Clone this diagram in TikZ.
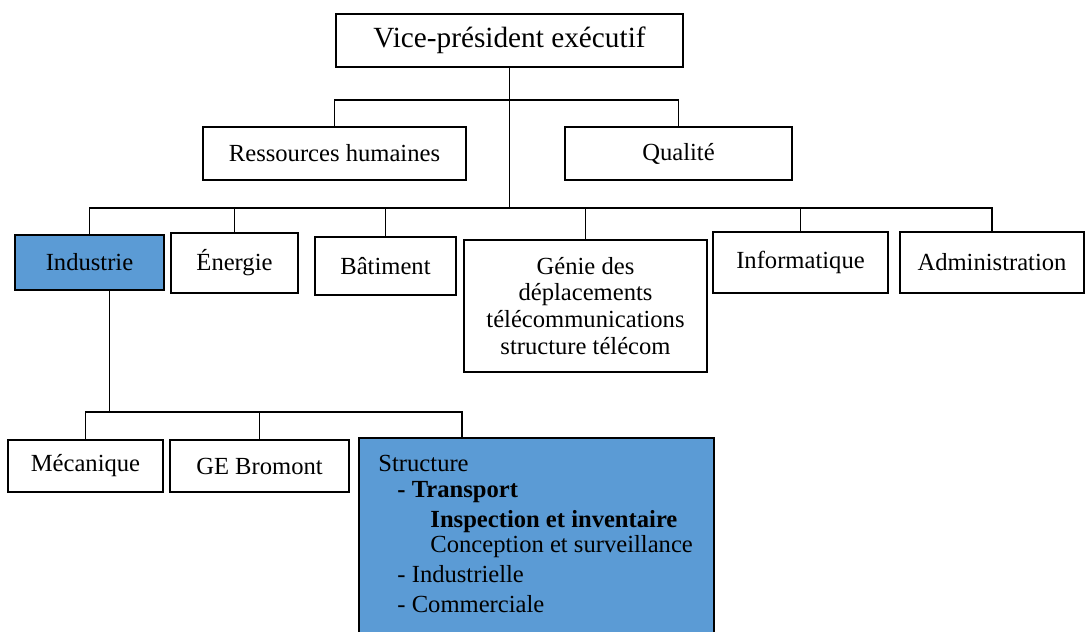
\documentclass[tikz,border=0pt]{standalone}
\usepackage{fontspec}
\setmainfont{Liberation Serif}
\definecolor{ORGblue}{HTML}{5B9BD5}
\usetikzlibrary{calc}

\begin{document}
\begin{tikzpicture}[x=0.015cm, y=-0.015cm,
      box/.style={draw, line width=0.8pt, align=center, inner sep=2pt,
         font=\fontsize{10.5}{11.5}\selectfont},
      link/.style={line width=0.8pt},
      item/.style={anchor=west, inner sep=0pt, font=\fontsize{10.5}{12}\selectfont}]
      \useasboundingbox (0,0) rectangle (1089,631);
      \clip (0,0) rectangle (1089,631);
      % Bus levels
      \coordinate (topbus) at (0,100);
      \coordinate (midbus) at (0,208);
      \coordinate (lowbus) at (0,412);
      % Direction
      \node[box, minimum width=5.205cm, minimum height=0.795cm,
         font=\fontsize{12.5}{14}\selectfont] (vp) at (509.5,40.5) {Vice-président exécutif};
      \node[box, minimum width=3.945cm, minimum height=0.795cm] (rh) at (334.5,153.5) {Ressources humaines};
      \node[box, minimum width=3.405cm, minimum height=0.795cm] (qual) at (678.5,153.5) {Qualité};
      % Divisions
      \node[box, fill=ORGblue, minimum width=2.235cm, minimum height=0.825cm] (ind) at (89.5,262.5) {Industrie};
      \node[box, minimum width=1.905cm, minimum height=0.9cm] (ene) at (234.5,263) {Énergie};
      \node[box, minimum width=2.115cm, minimum height=0.87cm] (bat) at (385.5,266) {Bâtiment};
      \node[box, minimum width=3.645cm, minimum height=1.98cm] (gen) at (585.5,306)
         {Génie des\\déplacements\\télécommunications\\structure télécom};
      \node[box, minimum width=2.625cm, minimum height=0.915cm] (inf) at (800.5,262.5) {Informatique};
      \node[box, minimum width=2.76cm, minimum height=0.915cm] (adm) at (992,262.5) {Administration};
      % Industrie
      \node[box, minimum width=2.325cm, minimum height=0.78cm] (mec) at (85.5,466) {Mécanique};
      \node[box, minimum width=2.685cm, minimum height=0.78cm] (geb) at (259.5,466) {GE Bromont};
      \node[box, fill=ORGblue, anchor=north west, minimum width=5.325cm, minimum height=3.12cm] (str) at (358,437) {};
      \node[item] (s1) at (378,463) {Structure};
      \node[item, font=\fontsize{10.5}{12}\selectfont\bfseries] (s2) at (397,492) {- Transport};
      \node[item, font=\fontsize{10.5}{12}\selectfont\bfseries] (s3) at (430,522) {Inspection et inventaire};
      \node[item] (s4) at (430,547) {Conception et surveillance};
      \node[item] (s5) at (397,574) {- Industrielle};
      \node[item] (s6) at (397,604) {- Commerciale};
      % Connectors
      \draw[link] (vp.south) -- (vp.south |- midbus);
      \draw[link] (rh.north) |- (topbus -| qual.north) -- (qual.north);
      \draw[link] (ind.north) |- (midbus -| adm.north) -- (adm.north);
      \foreach \n in {ene,bat,gen,inf}
         \draw[link] (\n.north) -- (\n.north |- midbus);
      \coordinate (indout) at ([xshift=0.3cm]ind.south);
      \coordinate (strin) at ([xshift=1.56cm]str.north west);
      \draw[link] (indout) -- (indout |- lowbus);
      \draw[link] (mec.north) |- (lowbus -| strin) -- (strin);
      \draw[link] (geb.north) -- (geb.north |- lowbus);
   \end{tikzpicture}
\end{document}
